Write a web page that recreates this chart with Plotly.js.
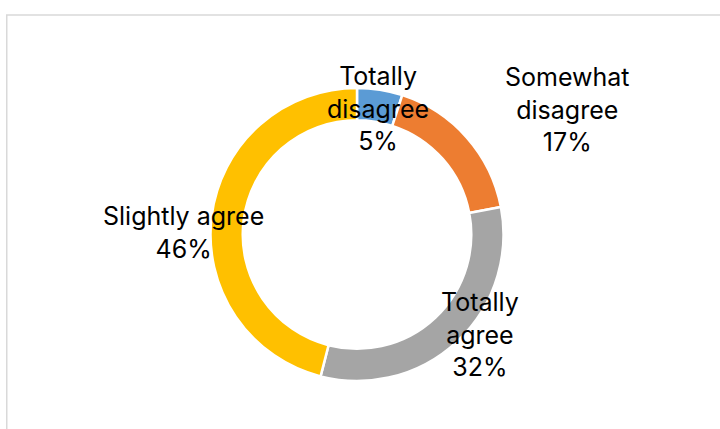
<!DOCTYPE html>
<html>
<head>
<meta charset="utf-8">
<script src="https://cdn.plot.ly/plotly-3.0.1.min.js"></script>
<style>html,body{margin:0;padding:0;background:#fff;}#chart{width:720px;height:429px;}</style>
</head>
<body>
<div id="chart"></div>
<script>
const categories = ["Totally disagree", "Somewhat disagree", "Totally agree", "Slightly agree"];
const labelLines = [["Totally", "disagree"], ["Somewhat", "disagree"], ["Totally", "agree"], ["Slightly agree"]];
const values = [5, 17, 32, 46];
const colors = ["#5b9bd5", "#ed7d31", "#a5a5a5", "#ffc000"];

// label block centers (px)
const labelPos = [[378, 108], [567, 110], [479.5, 334], [183, 232]];
const W = 720, H = 429;
const FS = 25;
const total = values.reduce((a, b) => a + b, 0);

const annotations = categories.map((c, i) => ({
  xref: "paper", yref: "paper",
  x: labelPos[i][0] / W, y: 1 - labelPos[i][1] / H,
  xanchor: "center", yanchor: "middle",
  text: labelLines[i].concat([Math.round(values[i] / total * 100) + "%"]).join("<br>"),
  showarrow: false, align: "center",
  font: {family: "Inter, Noto Sans, sans-serif", size: FS, color: "#000"}
}));

const trace = {
  type: "pie",
  labels: categories,
  values: values,
  hole: 0.78,
  sort: false,
  direction: "clockwise",
  rotation: 0,
  textinfo: "none",
  hoverinfo: "label+percent",
  marker: {colors: colors, line: {color: "#ffffff", width: 2.5}},
  domain: {x: [210.5 / W, 503.5 / W], y: [1 - 381 / H, 1 - 88 / H]},
  showlegend: false
};

const layout = {
  width: W, height: H,
  margin: {l: 0, r: 0, t: 0, b: 0},
  paper_bgcolor: "#ffffff",
  showlegend: false,
  annotations: annotations,
  shapes: [{
    type: "rect", xref: "paper", yref: "paper",
    x0: 6.75 / W, x1: 1.05, y0: -0.05, y1: 1 - 15 / H,
    line: {color: "#d9d9d9", width: 1.5}, fillcolor: "rgba(0,0,0,0)", layer: "below"
  }]
};

Plotly.newPlot("chart", [trace], layout, {displayModeBar: false, staticPlot: true});
</script>
</body>
</html>
